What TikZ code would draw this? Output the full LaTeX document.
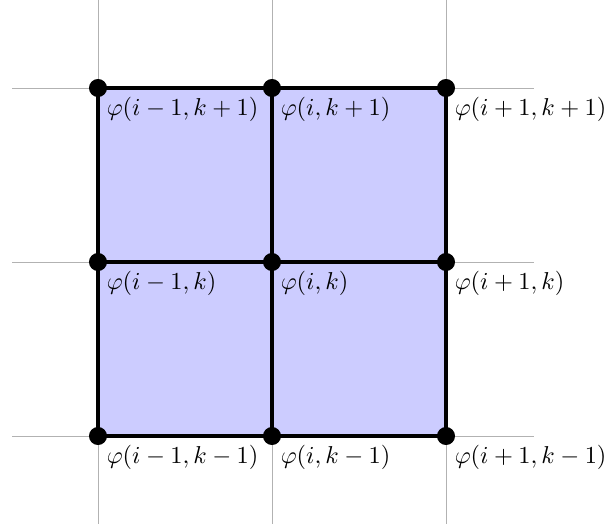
\documentclass[tikz,border=0pt]{standalone}
\begin{document}
\begin{tikzpicture}[x=0.41pt,y=-0.41pt,
  gridline/.style={gray!60,line width=0.4pt},
  edge/.style={black,line width=1.3pt},
  dot/.style={circle,fill=black,inner sep=0pt,minimum size=7.4pt},
  lab/.style={anchor=north west,inner sep=3.4pt}]
\useasboundingbox (0,0) rectangle (606,524);
% grid points
\foreach \c/\x in {a/98,b/272,c/446}{
  \foreach \r/\y in {1/88,2/262,3/436}{
    \coordinate (\c\r) at (\x,\y);
  }
}
% shaded cells
\fill[blue!20] (a1) rectangle (c3);
% thin grey grid lines
\foreach \r in {1,2,3}{
  \coordinate (l\r) at ([xshift=-86*0.41pt]a\r);
  \coordinate (r\r) at ([xshift=88*0.41pt]c\r);
  \draw[gridline] (l\r) -- (r\r);
}
\foreach \c in {a,b,c}{
  \coordinate (t\c) at ([yshift=88*0.41pt]\c1);
  \coordinate (u\c) at ([yshift=-88*0.41pt]\c3);
  \draw[gridline] (t\c) -- (u\c);
}
% dots
\foreach \p in {a1,a2,a3,b1,b2,b3,c1,c2,c3}{
  \node[dot] (d\p) at (\p) {};
}
% thick edges
\draw[edge] (da1.center) -- (dc1.center);
\draw[edge] (da2.center) -- (dc2.center);
\draw[edge] (da3.center) -- (dc3.center);
\draw[edge] (da1.center) -- (da3.center);
\draw[edge] (db1.center) -- (db3.center);
\draw[edge] (dc1.center) -- (dc3.center);
% labels
\node[lab] (ta1) at (a1) {$\varphi(i-1,k+1)$};
\node[lab] (tb1) at (b1) {$\varphi(i,k+1)$};
\node[lab] (tc1) at (c1) {$\varphi(i+1,k+1)$};
\node[lab] (ta2) at (a2) {$\varphi(i-1,k)$};
\node[lab] (tb2) at (b2) {$\varphi(i,k)$};
\node[lab] (tc2) at (c2) {$\varphi(i+1,k)$};
\node[lab] (ta3) at (a3) {$\varphi(i-1,k-1)$};
\node[lab] (tb3) at (b3) {$\varphi(i,k-1)$};
\node[lab] (tc3) at (c3) {$\varphi(i+1,k-1)$};
\end{tikzpicture}
\end{document}
